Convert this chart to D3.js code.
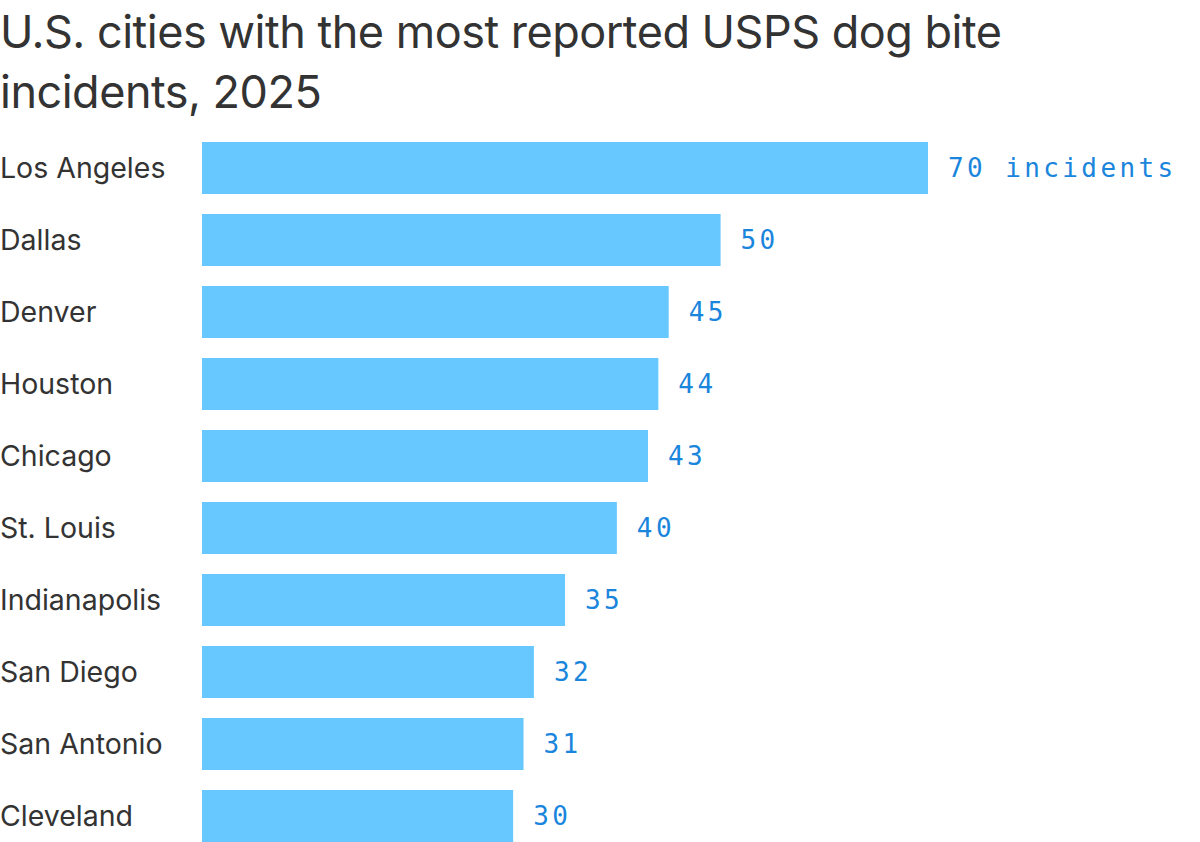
<!DOCTYPE html>
<html>
<head>
<meta charset="utf-8">
<script src="https://cdn.jsdelivr.net/npm/d3@7"></script>
<style>
  body { margin: 0; background: #fff; }
  svg { display: block; }
  .title { font-family: Inter, "Noto Sans", sans-serif; font-size: 45px; fill: #333; letter-spacing: -0.5px; }
  .city { font-family: Inter, "Noto Sans", sans-serif; font-size: 28.5px; fill: #333; letter-spacing: 0px; }
  .val { font-family: "DejaVu Sans Mono", "Liberation Mono", monospace; font-size: 26px; fill: #1a85dc; letter-spacing: 3.4px; }
</style>
</head>
<body>
<div id="chart"></div>
<script>
"use strict";

// values
const cities = ["Los Angeles", "Dallas", "Denver", "Houston", "Chicago",
    "St. Louis", "Indianapolis", "San Diego", "San Antonio", "Cleveland"];
const incidents = [70, 50, 45, 44, 43, 40, 35, 32, 31, 30];
const titleLines = ["U.S. cities with the most reported USPS dog bite", "incidents, 2025"];

const width = 1200, height = 842;
const svg = d3.select("#chart")
    .append("svg")
    .attr("width", width)
    .attr("height", height);

svg.selectAll("text.title")
    .data(titleLines)
    .join("text")
    .attr("class", "title")
    .attr("x", 0)
    .attr("y", (d, i) => 48 + i * 60)
    .text(d => d);

const x = d3.scaleLinear()
    .domain([0, 70])
    .range([202, 928]);
const y = d3.scaleBand()
    .domain(cities)
    .range([132, 852])
    .paddingInner(20 / 72)
    .paddingOuter(10 / 72);

const data = cities.map((c, i) => ({city: c, value: incidents[i]}));

svg.selectAll("rect.bar")
    .data(data)
    .join("rect")
    .attr("class", "bar")
    .attr("x", x(0))
    .attr("y", d => y(d.city))
    .attr("width", d => x(d.value) - x(0))
    .attr("height", y.bandwidth())
    .attr("fill", "#66c8ff");

svg.selectAll("text.city")
    .data(data)
    .join("text")
    .attr("class", "city")
    .attr("x", 0)
    .attr("y", d => y(d.city) + y.bandwidth() / 2 + 10)
    .text(d => d.city);

svg.selectAll("text.val")
    .data(data)
    .join("text")
    .attr("class", "val")
    .attr("x", d => x(d.value) + 20)
    .attr("y", d => y(d.city) + y.bandwidth() / 2 + 9)
    .text((d, i) => i === 0 ? d.value + " incidents" : d.value);
</script>
</body>
</html>
